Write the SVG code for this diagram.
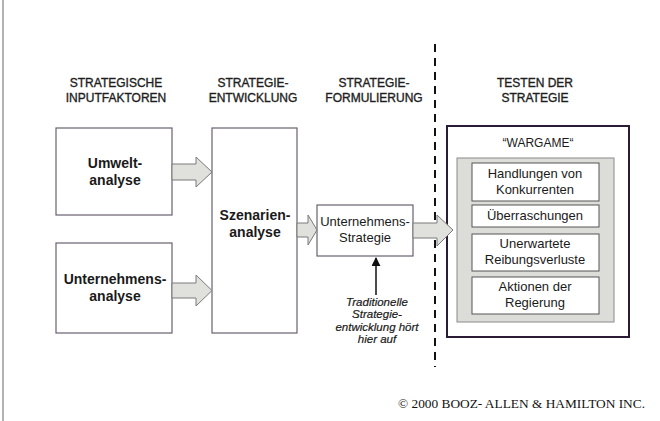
<svg xmlns="http://www.w3.org/2000/svg" width="660" height="421" viewBox="0 0 660 421">
<style>
.hdr{font-family:"Liberation Sans",Arial,sans-serif;font-size:12px;fill:#1e1e1e;stroke:#1e1e1e;stroke-width:0.35;text-anchor:middle}
.bx{fill:#fff;stroke:#6a6070;stroke-width:1.2}
.lbl{font-family:"Liberation Sans",Arial,sans-serif;font-size:14px;font-weight:bold;fill:#1a1a1a;text-anchor:middle}
.reg{font-family:"Liberation Sans",Arial,sans-serif;font-size:13px;fill:#1a1a1a;text-anchor:middle}
.blk{fill:#e0e0dc;stroke:#7a7a7a;stroke-width:1}
.sub{fill:#fff;stroke:#555;stroke-width:1}
.it{font-family:"Liberation Sans",Arial,sans-serif;font-size:11.5px;font-style:italic;fill:#1a1a1a;stroke:#1a1a1a;stroke-width:0.2;text-anchor:middle}
</style>
<defs>
<marker id="ah" viewBox="0 0 10 10" refX="9" refY="5" markerWidth="9" markerHeight="9" markerUnits="userSpaceOnUse" orient="auto"><path d="M0,0 L10,5 L0,10 Z" fill="#111"/></marker>
</defs>
<rect width="660" height="421" fill="#fff"/>
<line x1="3" y1="0" x2="3" y2="421" stroke="#9a9a9a" stroke-width="1.5"/>

<g id="headers">
<text class="hdr" x="116" y="87">STRATEGISCHE</text>
<text class="hdr" x="116" y="102">INPUTFAKTOREN</text>
<text class="hdr" x="253" y="87">STRATEGIE-</text>
<text class="hdr" x="253" y="102">ENTWICKLUNG</text>
<text class="hdr" x="374" y="87">STRATEGIE-</text>
<text class="hdr" x="374" y="102">FORMULIERUNG</text>
<text class="hdr" x="535" y="87">TESTEN DER</text>
<text class="hdr" x="535" y="102">STRATEGIE</text>
</g>

<line id="divider" x1="435" y1="44" x2="435" y2="367" stroke="#111" stroke-width="2" stroke-dasharray="8 6"/>

<g id="umwelt">
<rect class="bx" x="56" y="128" width="116" height="87"/>
<text class="lbl" x="115" y="168">Umwelt-</text>
<text class="lbl" x="115" y="185">analyse</text>
</g>
<g id="unternehmensanalyse">
<rect class="bx" x="56" y="243" width="116" height="90"/>
<text class="lbl" x="115" y="284">Unternehmens-</text>
<text class="lbl" x="115" y="301">analyse</text>
</g>
<g id="szenarien">
<rect class="bx" x="212" y="128" width="85" height="205"/>
<text class="lbl" x="255" y="220">Szenarien-</text>
<text class="lbl" x="255" y="237">analyse</text>
</g>
<g id="strategie">
<rect class="bx" x="317" y="205" width="96" height="51"/>
<text class="reg" x="365" y="226">Unternehmens-</text>
<text class="reg" x="365" y="242">Strategie</text>
</g>

<g id="wargame">
<rect x="447" y="126" width="182" height="211" fill="#fff" stroke="#2a1c36" stroke-width="2"/>
<text class="reg" x="538" y="147" style="font-size:12px">“WARGAME“</text>
<rect x="457" y="158" width="157" height="164" fill="#dcdcd8" stroke="#8a8a8a" stroke-width="1"/>
<g id="handlungen">
<rect class="sub" x="472" y="163" width="127" height="38"/>
<text class="reg" x="535" y="178">Handlungen von</text>
<text class="reg" x="535" y="194">Konkurrenten</text>
</g>
<g id="ueberraschungen">
<rect class="sub" x="472" y="205" width="127" height="22"/>
<text class="reg" x="535" y="220">Überraschungen</text>
</g>
<g id="reibung">
<rect class="sub" x="472" y="234" width="127" height="37"/>
<text class="reg" x="535" y="248">Unerwartete</text>
<text class="reg" x="535" y="264">Reibungsverluste</text>
</g>
<g id="regierung">
<rect class="sub" x="472" y="277" width="127" height="37"/>
<text class="reg" x="535" y="291">Aktionen der</text>
<text class="reg" x="535" y="307">Regierung</text>
</g>
</g>

<g id="connectors">
<path class="blk" d="M172,164 L196,164 L196,157 L212,172 L196,187 L196,180 L172,180 Z"/>
<path class="blk" d="M172,283 L196,283 L196,275 L212,290.5 L196,306 L196,298 L172,298 Z"/>
<path class="blk" d="M297,223 L308,223 L308,215 L317,230 L308,245 L308,237 L297,237 Z"/>
<path class="blk" d="M413,223 L437,223 L437,215 L453,230 L437,246 L437,238 L413,238 Z"/>
<line x1="376" y1="295" x2="376" y2="258" stroke="#111" stroke-width="1.5" marker-end="url(#ah)"/>
</g>

<g id="note">
<text class="it" x="377" y="306">Traditionelle</text>
<text class="it" x="377" y="318">Strategie-</text>
<text class="it" x="377" y="331">entwicklung hört</text>
<text class="it" x="377" y="343">hier auf</text>
</g>

<text x="398" y="408" font-family="'Liberation Serif','Times New Roman',serif" font-size="12" fill="#111" textLength="247" lengthAdjust="spacingAndGlyphs">© 2000 BOOZ- ALLEN &amp; HAMILTON INC.</text>
</svg>
